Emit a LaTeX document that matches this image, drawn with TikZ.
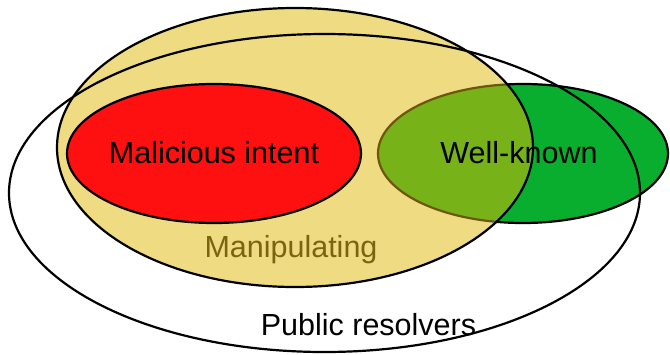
\documentclass[tikz,border=0pt]{standalone}
\usepackage{fontspec}
\setmainfont{Liberation Sans}
\definecolor{yel}{RGB}{238,219,130}
\definecolor{redf}{RGB}{255,16,16}
\definecolor{grn}{RGB}{10,174,46}
\definecolor{olv}{RGB}{118,178,24}
\definecolor{olvline}{RGB}{110,86,16}
\definecolor{maniptxt}{RGB}{122,100,16}
\begin{document}
\begin{tikzpicture}[x=1pt,y=-1pt,
  outl/.style={line width=2.2pt},
  lbl/.style={font=\fontsize{30.5}{36}\selectfont, inner sep=0pt, anchor=base}]
\useasboundingbox (0,0) rectangle (670,354);
% green ellipse
\fill[grn] (523,153.5) ellipse [x radius=145, y radius=69.5];
\draw[outl] (523,153.5) ellipse [x radius=145, y radius=69.5];
% yellow ellipse
\fill[yel] (295,147.5) ellipse [x radius=238, y radius=139.5];
\begin{scope}
  \clip (295,147.5) ellipse [x radius=238, y radius=139.5];
  \fill[olv] (523,153.5) ellipse [x radius=145, y radius=69.5];
  \draw[outl, olvline] (523,153.5) ellipse [x radius=145, y radius=69.5];
\end{scope}
\draw[outl] (295,147.5) ellipse [x radius=238, y radius=139.5];
% public resolvers
\draw[outl] (324.5,193) ellipse [x radius=315.5, y radius=159];
% red ellipse
\fill[redf] (214,153.5) ellipse [x radius=147, y radius=69.5];
\draw[outl] (214,153.5) ellipse [x radius=147, y radius=69.5];
% labels
\node[lbl] (mal) at (214,163) {Malicious intent};
\node[lbl] (well) at (519,163) {Well-known};
\node[lbl, text=maniptxt] (manip) at (291,257) {Manipulating};
\node[lbl] (pub) at (368.5,335) {Public resolvers};
\end{tikzpicture}
\end{document}
